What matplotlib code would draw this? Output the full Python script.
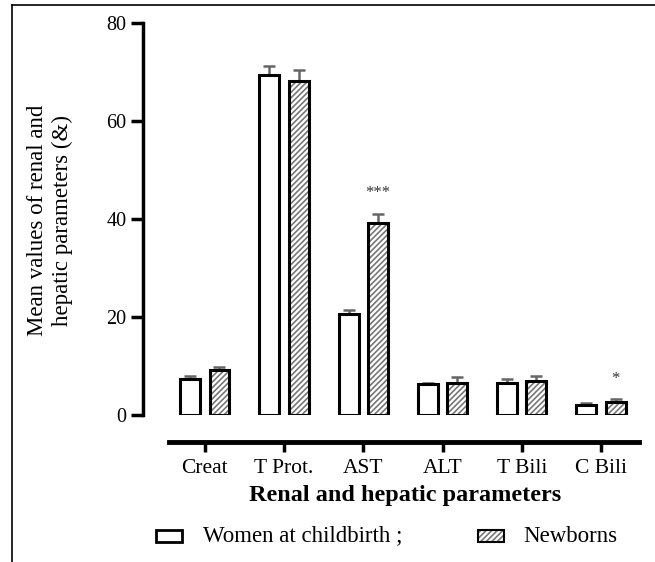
import matplotlib
matplotlib.use("Agg")
import matplotlib.pyplot as plt
import numpy as np
from matplotlib.lines import Line2D
from matplotlib.patches import Rectangle

categories = ["Creat", "T Prot.", "AST", "ALT", "T Bili", "C Bili"]
women = [7.4, 69.4, 20.6, 6.3, 6.5, 2.0]
women_err = [0.6, 1.8, 0.8, 0.3, 0.8, 0.4]
newborns = [9.2, 68.2, 39.2, 6.6, 6.9, 2.7]
newborns_err = [0.6, 2.2, 1.9, 1.1, 1.0, 0.6]
stars = ["", "", "***", "", "", "*"]
yticks = [0, 20, 40, 60, 80]

plt.rcParams['font.family'] = ['Liberation Serif', 'DejaVu Serif']
plt.rcParams['hatch.linewidth'] = 1.2

W, H = 655, 562
fig = plt.figure(figsize=(W / 100, H / 100), dpi=100)

def fx(px):
    return px / W

def fy(py):
    return 1 - py / H

ax = fig.add_axes([fx(143), fy(415), fx(639) - fx(143), fy(23) - fy(415)])
x = np.arange(len(categories))
bw = 0.25
off = 0.185

ax.bar(x - off, women, bw, color='white', edgecolor='black', linewidth=2.2, zorder=3)
ax.bar(x + off, newborns, bw, color='white', edgecolor='#777777', hatch='//////', linewidth=0, zorder=3)
ax.bar(x + off, newborns, bw, color='none', edgecolor='black', linewidth=2.2, zorder=4)

ax.errorbar(x - off, women, yerr=[np.zeros(len(women)), women_err], fmt='none',
            ecolor='#666666', elinewidth=1.8, capsize=4, capthick=1.8, zorder=2)
ax.errorbar(x + off, newborns, yerr=[np.zeros(len(newborns)), newborns_err], fmt='none',
            ecolor='#666666', elinewidth=1.8, capsize=4, capthick=1.8, zorder=2)

for i, s in enumerate(stars):
    if s:
        ax.text(x[i] + off, newborns[i] + newborns_err[i] + 2.5, s, ha='center', va='bottom',
                fontsize=12, color='#333333')

for s in ['top', 'right']:
    ax.spines[s].set_visible(False)
ax.spines['left'].set_linewidth(2.5)
ax.spines['bottom'].set_linewidth(3.5)
ax.spines['bottom'].set_position(('outward', 19.5))
ax.spines['bottom'].set_bounds(-0.455, 5.48)

ax.set_xlim(-0.78, 5.48)
ax.set_ylim(0, 80)
ax.set_yticks(yticks)
ax.set_yticklabels([str(v) for v in yticks])
ax.set_xticks(x)
ax.set_xticklabels(categories)
ax.tick_params(axis='y', length=9, width=2.5, pad=3, labelsize=14.5)
ax.tick_params(axis='x', length=7, width=2.5, pad=5, labelsize=15.5)

ax.set_xlabel("Renal and hepatic parameters", fontsize=17.5, fontweight='bold', labelpad=9)
ax.xaxis.set_label_coords((405 - 143) / (639 - 143), fy(495))
ax.xaxis.label.set_transform(matplotlib.transforms.blended_transform_factory(ax.transAxes, fig.transFigure))
ax.xaxis.label.set_va('center')

fig.text(fx(50), fy(220), "Mean values of renal and\nhepatic parameters (&)", rotation=90,
         ha='center', va='center', fontsize=16.5, linespacing=1.2)

# legend
fig.patches.append(Rectangle((fx(156), fy(542)), fx(26), fy(530) - fy(542), transform=fig.transFigure,
                             facecolor='white', edgecolor='black', linewidth=2))
fig.text(fx(203), fy(536), "Women at childbirth ;", ha='left', va='center', fontsize=16.5)
fig.patches.append(Rectangle((fx(478), fy(542)), fx(26), fy(530) - fy(542), transform=fig.transFigure,
                             facecolor='white', edgecolor='#777777', hatch='//////', linewidth=0))
fig.patches.append(Rectangle((fx(478), fy(542)), fx(26), fy(530) - fy(542), transform=fig.transFigure,
                             facecolor='none', edgecolor='black', linewidth=1.5))
fig.text(fx(523), fy(536), "Newborns", ha='left', va='center', fontsize=16.5)

# frame
fig.add_artist(Line2D([fx(12), fx(12)], [fy(5), 0], color='black', linewidth=1.2, transform=fig.transFigure))
fig.add_artist(Line2D([fx(12), 1], [fy(5), fy(5)], color='black', linewidth=1.2, transform=fig.transFigure))

fig.savefig("out.png", dpi=100)
